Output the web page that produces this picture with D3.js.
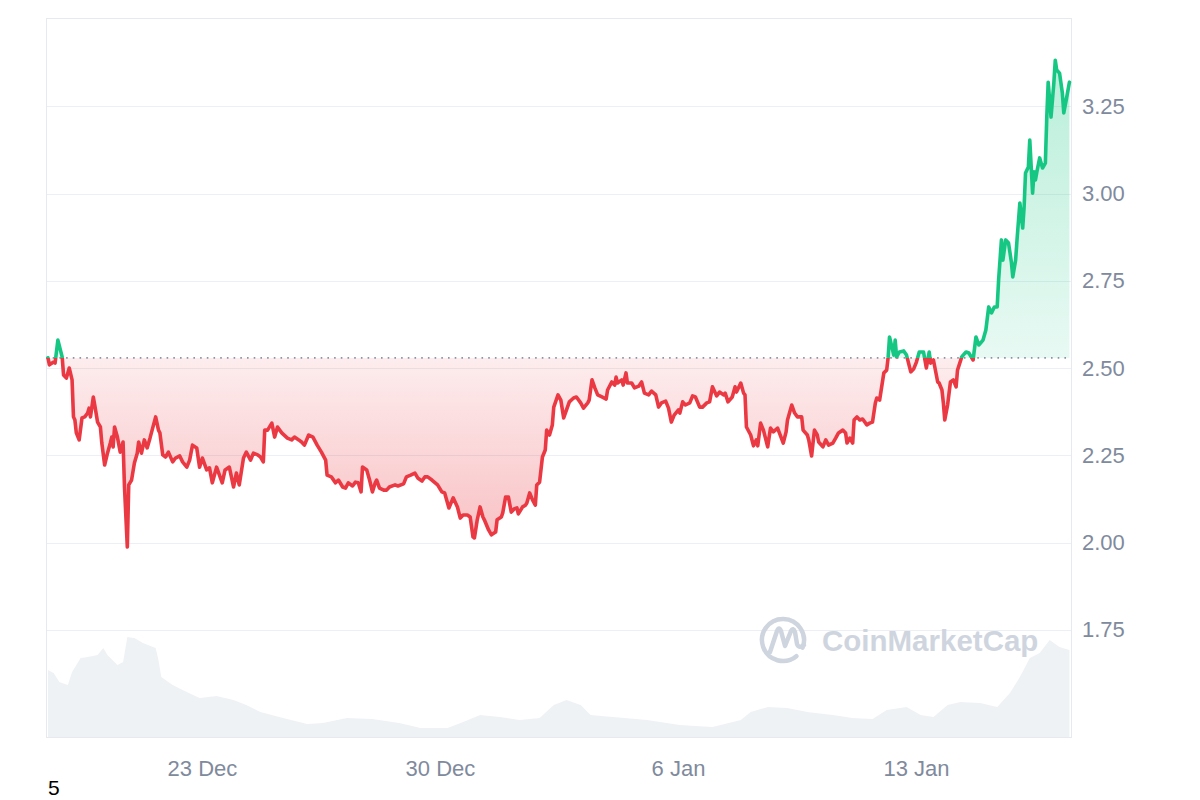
<!DOCTYPE html>
<html><head><meta charset="utf-8">
<script src="https://cdn.jsdelivr.net/npm/d3@7"></script>
<style>html,body{margin:0;padding:0;background:#fff;} svg{display:block;font-family:"Liberation Sans",Arial,Helvetica,sans-serif;}</style>
</head><body><svg id="chart" width="1200" height="800"></svg>
<script>
// ---- data (XRP / USD, hourly-ish samples) ----
const startTime = new Date(2024, 11, 18, 11, 20);
const priceHours = [
0,1,4,5,7,10,11,13,15,17,18,19,20,22,24,26,28,29,30,32,33,35,37,38,40,42,44,45,46,47,
49,51,53,54,56,57,59,61,63,64,66,68,70,72,76,78,79,81,83,85,88,90,93,95,98,100,102,105,107,109,
112,114,116,119,123,125,128,131,133,135,138,140,143,145,148,150,152,153,155,158,160,162,165,169,172,174,
177,179,181,184,187,190,193,196,197,200,203,205,208,210,212,215,217,219,221,222,
225,227,229,231,232,234,237,239,241,245,247,251,253,256,259,261,264,266,268,271,
275,278,280,283,286,289,291,293,296,298,300,301,303,305,307,308,311,313,316,317,
320,321,323,325,327,329,331,332,335,337,338,340,342,344,345,347,349,351,352,354,356,357,360,
362,364,366,368,371,373,376,378,381,382,384,386,388,391,394,395,398,400,401,402,
405,406,408,409,412,414,417,419,421,424,426,429,431,433,436,438,440,442,445,446,
448,450,453,455,457,460,462,465,467,469,472,474,477,478,480,483,485,486,489,491,
492,493,496,498,500,501,503,505,508,510,512,515,516,
519,521,522,525,527,529,532,533,536,537,539,541,543,544,547,549,551,554,556,558,
561,563,564,566,568,569,571,573,575,578,580,582,584,585,587,590,592,593,594,597,
598,599,601,604,606,609,611,613,615,618,620,622,623,625,628,629,631,632,633,635,
637,639,641,642,645,646,648,650,653,
655,657,660,662,664,666,668,670,671,673,674,676,678,680,681,683,684,686,688,689,
690,692,693,695,696,697,698,700,702,704,705,706,708,710,711,712,714,716,717,719,721
];
const prices = [
2.529,2.509,2.517,2.514,2.580,2.532,2.480,2.471,2.500,2.466,2.360,2.351,2.314,2.294,2.357,2.360,2.371,2.385,2.360,2.417,
2.394,2.345,2.331,2.285,2.222,2.256,2.285,2.302,2.274,2.331,2.302,2.259,2.288,2.159,1.987,2.165,2.179,2.228,2.256,2.288,
2.256,2.294,2.271,2.299,2.360,2.322,2.314,2.251,2.245,2.259,2.231,2.242,2.248,2.231,2.216,2.236,2.279,2.271,2.216,2.242,
2.208,2.214,2.171,2.216,2.171,2.208,2.216,2.159,2.199,2.165,2.242,2.259,2.236,2.256,2.251,2.245,2.231,2.322,2.322,2.342,
2.302,2.331,2.314,2.299,2.294,2.302,
2.294,2.288,2.279,2.308,2.302,2.279,2.259,2.236,2.193,2.188,2.171,2.179,2.159,2.156,2.171,2.162,2.173,2.171,2.145,2.216,
2.208,2.179,2.145,2.171,2.179,2.156,2.150,2.150,2.159,2.165,2.162,2.168,2.188,2.193,2.199,2.185,2.176,2.188,2.188,2.179,
2.165,2.145,2.142,2.099,2.128,2.102,2.070,2.079,2.079,2.073,2.016,2.013,2.065,2.102,2.073,2.065,2.036,2.022,2.030,2.065,
2.073,2.085,2.130,2.130,2.087,2.096,2.099,2.082,2.102,2.107,2.113,2.142,2.122,2.107,2.165,2.173,2.245,2.265,2.322,2.308,
2.337,2.388,2.423,
2.408,2.357,2.380,2.403,2.414,2.417,2.400,2.385,2.400,2.408,2.466,2.443,2.423,2.417,2.411,2.437,2.460,2.451,2.474,2.457,
2.466,2.451,2.486,2.457,2.457,2.443,2.448,2.460,2.428,2.423,2.434,2.423,2.388,2.400,2.405,2.385,2.345,2.365,2.380,2.371,
2.403,2.394,2.400,2.420,2.417,2.388,2.388,2.400,2.403,2.446,2.420,2.431,2.423,2.428,2.403,2.417,2.446,2.431,2.457,2.428,
2.423,2.331,2.308,2.277,2.294,2.277,2.342,2.322,2.274,2.328,2.317,2.328,2.317,
2.285,2.317,2.351,2.394,2.371,2.360,2.360,2.322,2.308,2.294,2.248,2.322,2.308,2.288,2.274,2.294,2.279,2.285,2.299,2.314,
2.322,2.314,2.285,2.299,2.285,2.351,2.360,2.351,2.354,2.337,2.342,2.345,2.400,2.414,2.408,2.486,2.494,2.529,2.589,2.537,
2.580,2.532,2.546,2.549,2.537,2.489,2.497,2.517,2.546,2.546,2.500,2.546,2.514,2.523,2.460,2.457,2.437,2.400,2.351,2.394,
2.460,2.466,2.446,2.494,2.532,2.537,2.546,2.543,2.523,
2.589,2.566,2.580,2.609,2.675,2.658,2.675,2.675,2.752,2.867,2.809,2.867,2.858,2.804,2.761,2.809,2.867,2.973,2.901,2.961,
3.059,3.076,3.153,3.001,3.062,3.039,3.062,3.102,3.073,3.087,3.219,3.319,3.219,3.317,3.382,3.354,3.345,3.288,3.231,3.274,
3.319
];
const volumeHours = [
0,4,8,14,17,23,28,35,39,42,49,53,56,61,67,76,78,80,88,98,
107,119,131,140,150,166,183,194,211,229,248,263,282,293,305,319,333,347,357,366,
376,383,399,423,446,469,489,496,508,522,536,554,568,582,592,606,616,625,635,644,
658,670,679,686,693,700,707,714,721
];
const volumes = [
67,64,55,52,65,79,80,82,89,82,72,75,100,99,94,89,77,60,52,45,
39,41,37,32,25,19,13,14,19,18,14,9,9,15,22,20,17,19,32,37,
32,22,20,17,12,10,17,25,30,29,25,22,19,18,27,30,22,20,32,35,
34,30,44,60,79,84,97,90,87
];
const referencePrice = 2.529;
const yTicks = [1.75, 2.00, 2.25, 2.50, 2.75, 3.00, 3.25];
const xTicks = [new Date(2024, 11, 23), new Date(2024, 11, 30), new Date(2025, 0, 6), new Date(2025, 0, 13)];
const xTickLabels = ["23 Dec", "30 Dec", "6 Jan", "13 Jan"];
const cornerLabel = "5";
const watermarkText = "CoinMarketCap";

// ---- build ----
const priceData = priceHours.map((h, i) => ({ t: new Date(startTime.getTime() + h * 3600e3), v: prices[i] }));
const volumeData = volumeHours.map((h, i) => ({ t: new Date(startTime.getTime() + h * 3600e3), v: volumes[i] }));

const L = 46, R = 1071, T = 18, B = 737;
const svg = d3.select("#chart");

const x = d3.scaleTime().domain([new Date(2024, 11, 18, 9, 56), new Date(2025, 0, 17, 13, 26)]).range([L, R]);
const y = d3.scaleLinear().domain([1.4427, 3.5029]).range([B, T]);
const yv = d3.scaleLinear().domain([0, 110]).range([B, B - 110]);
const yBase = y(referencePrice);

const RED = "#ea3943", GREEN = "#16c784";

const defs = svg.append("defs");
defs.append("clipPath").attr("id", "clipAbove").append("rect").attr("x", 0).attr("y", 0).attr("width", 1200).attr("height", yBase);
defs.append("clipPath").attr("id", "clipBelow").append("rect").attr("x", 0).attr("y", yBase).attr("width", 1200).attr("height", 800 - yBase);
const gRed = defs.append("linearGradient").attr("id", "gRed").attr("gradientUnits", "userSpaceOnUse")
  .attr("x1", 0).attr("x2", 0).attr("y1", yBase).attr("y2", y(d3.min(prices)));
gRed.append("stop").attr("offset", 0).attr("stop-color", RED).attr("stop-opacity", 0.09);
gRed.append("stop").attr("offset", 1).attr("stop-color", RED).attr("stop-opacity", 0.32);
const gGreen = defs.append("linearGradient").attr("id", "gGreen").attr("gradientUnits", "userSpaceOnUse")
  .attr("x1", 0).attr("x2", 0).attr("y1", yBase).attr("y2", y(d3.max(prices)));
gGreen.append("stop").attr("offset", 0).attr("stop-color", GREEN).attr("stop-opacity", 0.1);
gGreen.append("stop").attr("offset", 1).attr("stop-color", GREEN).attr("stop-opacity", 0.3);

// grid
svg.append("g").selectAll("line").data(yTicks).join("line")
  .attr("x1", L).attr("x2", R).attr("y1", d => Math.round(y(d)) + 0.5).attr("y2", d => Math.round(y(d)) + 0.5)
  .attr("stroke", "#eceff3").attr("stroke-width", 1);

// volume
svg.append("path").datum(volumeData)
  .attr("d", d3.area().x(d => x(d.t)).y0(B).y1(d => yv(d.v)))
  .attr("fill", "#eff2f5");

// watermark
const wm = svg.append("g").attr("fill", "none").attr("stroke", "#cfd5de").attr("stroke-width", 4.5).attr("stroke-linecap", "round").attr("stroke-linejoin", "round");
const cx = 783, cy = 640, r = 21;
const ring = d3.path(); ring.arc(0, 0, r, Math.PI * 0.28, Math.PI * 2.12);
wm.append("path").attr("transform", `translate(${cx},${cy})`).attr("d", ring.toString());
wm.append("path").attr("d", `M${cx-13},${cy+12} L${cx-6},${cy-9} Q${cx-4},${cy-14} ${cx-2},${cy-9} L${cx+2},${cy+6} L${cx+8},${cy-9} Q${cx+10},${cy-13} ${cx+12},${cy-8} L${cx+14},${cy+4} Q${cx+16},${cy+9} ${cx+21},${cy+5}`);
svg.append("text").attr("x", 822).attr("y", 651).attr("fill", "#cfd5de")
  .attr("font-size", 29.5).attr("font-weight", "bold").text(watermarkText);

// frame
svg.append("rect").attr("x", L + 0.5).attr("y", T + 0.5).attr("width", R - L).attr("height", B - T)
  .attr("fill", "none").attr("stroke", "#e6e9ee").attr("stroke-width", 1);

// fills
const area = d3.area().x(d => x(d.t)).y0(yBase).y1(d => y(d.v));
svg.append("path").datum(priceData).attr("d", area).attr("fill", "url(#gRed)").attr("clip-path", "url(#clipBelow)");
svg.append("path").datum(priceData).attr("d", area).attr("fill", "url(#gGreen)").attr("clip-path", "url(#clipAbove)");

// reference dotted line
svg.append("line").attr("x1", L).attr("x2", R).attr("y1", yBase).attr("y2", yBase)
  .attr("stroke", "#8c93a3").attr("stroke-width", 1.6).attr("stroke-dasharray", "1.6,5.1");

// price line
const line = d3.line().x(d => x(d.t)).y(d => y(d.v));
svg.append("path").datum(priceData).attr("d", line).attr("fill", "none").attr("stroke", RED)
  .attr("stroke-width", 3.6).attr("stroke-linejoin", "round").attr("stroke-linecap", "round").attr("clip-path", "url(#clipBelow)");
svg.append("path").datum(priceData).attr("d", line).attr("fill", "none").attr("stroke", GREEN)
  .attr("stroke-width", 3.6).attr("stroke-linejoin", "round").attr("stroke-linecap", "round").attr("clip-path", "url(#clipAbove)");

// axes
const yAxis = svg.append("g").attr("transform", `translate(${R},0)`)
  .call(d3.axisRight(y).tickValues(yTicks).tickFormat(d3.format(".2f")).tickSize(0).tickPadding(11));
yAxis.select(".domain").remove();
yAxis.selectAll("text").attr("fill", "#808a9d").attr("font-size", 22).attr("font-family", "Liberation Sans, Arial, sans-serif");

const xAxis = svg.append("g").attr("transform", `translate(0,${B})`)
  .call(d3.axisBottom(x).tickValues(xTicks).tickFormat((d, i) => xTickLabels[i]).tickSize(0).tickPadding(23));
xAxis.select(".domain").remove();
xAxis.selectAll("text").attr("fill", "#808a9d").attr("font-size", 22).attr("font-family", "Liberation Sans, Arial, sans-serif");

svg.append("text").attr("x", 48).attr("y", 795).attr("fill", "#000").attr("font-size", 21).text(cornerLabel);
</script></body></html>
